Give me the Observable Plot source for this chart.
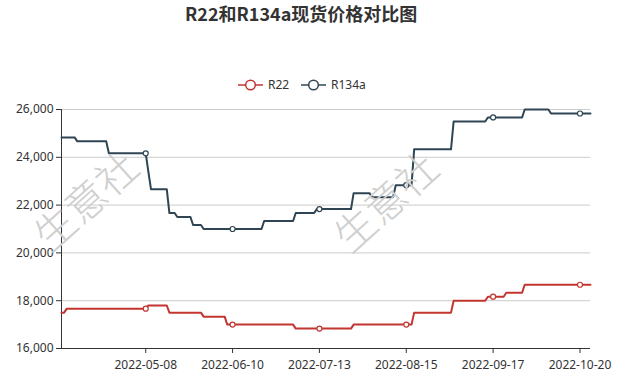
<!DOCTYPE html>
<html>
<head>
<meta charset="utf-8">
<script src="https://cdn.jsdelivr.net/npm/d3@7"></script>
<script src="https://cdn.jsdelivr.net/npm/@observablehq/plot@0.6"></script>
<style>
  html, body { margin: 0; padding: 0; background: #fff; }
  #wrap { position: relative; width: 628px; height: 386px; overflow: hidden; font-family: "Noto Sans", sans-serif; color: #333; }
  #title { position: absolute; left: 185px; top: 0px; font-family: "Noto Sans CJK SC", sans-serif; font-weight: bold; font-size: 18px; line-height: 26px; color: #333; white-space: nowrap; }
  .leg { position: absolute; top: 78px; height: 14px; display: flex; align-items: center; font-size: 12px; line-height: 14px; color: #333; white-space: nowrap; }
  .leg svg { margin-right: 5px; }
  .wm { position: absolute; font-family: "Noto Sans CJK SC", sans-serif; font-weight: 300; font-size: 41px; color: #cfcfcf; white-space: nowrap; transform: translate(-50%, -50%) rotate(-42deg); pointer-events: none; }
  #chart { position: absolute; left: 0; top: 0; }
</style>
</head>
<body>
<div id="wrap">
  <div id="chart"></div>
  <div class="wm" style="left:84px; top:199px;">生意社</div>
  <div class="wm" style="left:384px; top:200px;">生意社</div>
  <div id="title">R22和R134a现货价格对比图</div>
  <div id="legend"></div>
</div>
<script>
// ---- data ----
const seriesNames = ["R22", "R134a"];
const seriesColors = ["#c23531", "#2f4554"];

const r22Dates = ["2022-04-06","2022-04-07","2022-04-08","2022-05-08","2022-05-09","2022-05-16","2022-05-17","2022-05-29","2022-05-30","2022-06-07","2022-06-08","2022-07-03","2022-07-04","2022-07-25","2022-07-26","2022-08-17","2022-08-18","2022-09-01","2022-09-02","2022-09-14","2022-09-15","2022-09-21","2022-09-22","2022-09-28","2022-09-29","2022-10-24"];
const r22Values = [17500,17500,17667,17667,17800,17800,17500,17500,17333,17333,17000,17000,16833,16833,17000,17000,17500,17500,18000,18000,18167,18167,18333,18333,18667,18667];

const r134aDates = ["2022-04-06","2022-04-11","2022-04-12","2022-04-23","2022-04-24","2022-05-08","2022-05-09","2022-05-10","2022-05-16","2022-05-17","2022-05-19","2022-05-20","2022-05-25","2022-05-26","2022-05-29","2022-05-30","2022-06-21","2022-06-22","2022-07-03","2022-07-04","2022-07-11","2022-07-12","2022-07-25","2022-07-26","2022-08-01","2022-08-02","2022-08-10","2022-08-11","2022-08-17","2022-08-18","2022-09-01","2022-09-02","2022-09-14","2022-09-15","2022-09-28","2022-09-29","2022-10-08","2022-10-09","2022-10-24"];
const r134aValues = [24833,24833,24667,24667,24167,24167,23400,22667,22667,21667,21667,21500,21500,21167,21167,21000,21000,21333,21333,21667,21667,21833,21833,22500,22500,22333,22333,22833,22833,24333,24333,25500,25500,25667,25667,26000,26000,25833,25833];

const tickDates = ["2022-05-08","2022-06-10","2022-07-13","2022-08-15","2022-09-17","2022-10-20"];
const yTicks = [16000, 18000, 20000, 22000, 24000, 26000];
const xStart = "2022-04-06", xEnd = "2022-10-24";

// ---- build ----
const parse = d3.utcParse("%Y-%m-%d");
const seriesData = [
  {name: "R22", dates: r22Dates, values: r22Values},
  {name: "R134a", dates: r134aDates, values: r134aValues}
];
const rows = [];
seriesData.forEach(s => s.dates.forEach((d, i) => rows.push({series: s.name, date: parse(d), value: s.values[i]})));

// value held (step) on each tick date, for the hollow markers
const markers = [];
seriesData.forEach(s => tickDates.forEach(t => {
  const td = parse(t);
  let v = null;
  s.dates.forEach((d, i) => { if (parse(d) <= td) v = s.values[i]; });
  markers.push({series: s.name, date: td, value: v});
}));

const chart = Plot.plot({
  width: 628,
  height: 386,
  marginTop: 109,
  marginBottom: 38,
  marginLeft: 61,
  marginRight: 38,
  style: {fontFamily: "'Noto Sans', sans-serif", fontSize: "12px", color: "#333", background: "transparent"},
  x: {type: "utc", domain: [parse(xStart), parse(xEnd)]},
  y: {domain: [16000, 26000]},
  color: {domain: seriesNames, range: seriesColors},
  marks: [
    Plot.gridY(yTicks, {stroke: "#ccc", strokeOpacity: 1}),
    Plot.axisY(yTicks, {tickFormat: d3.format(","), tickSize: 5, tickPadding: 3, stroke: "#333", fill: "#333", label: null}),
    Plot.axisX(tickDates.map(parse), {tickFormat: d3.utcFormat("%Y-%m-%d"), tickSize: 5, tickPadding: 7, stroke: "#333", fill: "#333", label: null}),
    Plot.ruleY([16000], {stroke: "#333", strokeWidth: 1}),
    Plot.ruleX([parse(xStart)], {stroke: "#333", strokeWidth: 1}),
    Plot.line(rows, {x: "date", y: "value", z: "series", stroke: "series", strokeWidth: 2}),
    Plot.dot(markers, {x: "date", y: "value", stroke: "series", fill: "white", r: 2.5, strokeWidth: 1.2})
  ]
});
document.getElementById("chart").appendChild(chart);

// ---- legend ----
const legendLefts = [238, 301];
const legend = document.getElementById("legend");
seriesNames.forEach((name, i) => {
  const item = document.createElement("div");
  item.className = "leg";
  item.style.left = legendLefts[i] + "px";
  item.innerHTML = `<svg width="25" height="14"><line x1="0" x2="25" y1="7" y2="7" stroke="${seriesColors[i]}" stroke-width="1.5"/><circle cx="12.5" cy="7" r="4.8" fill="#fff" stroke="${seriesColors[i]}" stroke-width="1.5"/></svg><span>${name}</span>`;
  legend.appendChild(item);
});
</script>
</body>
</html>
